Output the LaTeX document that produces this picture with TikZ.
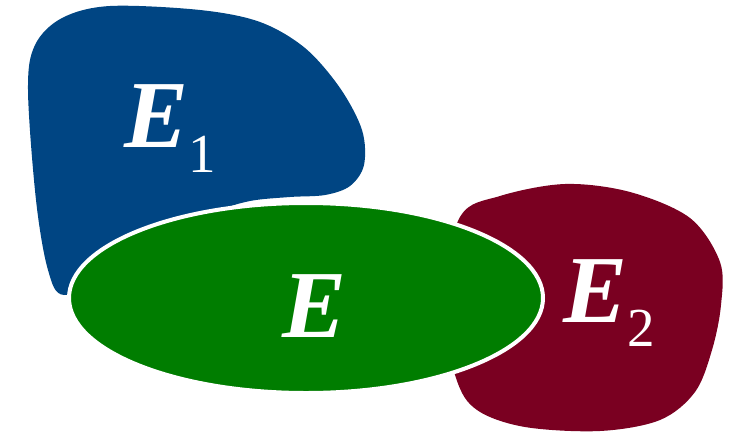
\documentclass[tikz,border=0pt]{standalone}
\usepackage{fontspec}
\setmainfont{Liberation Serif}
\definecolor{setblue}{RGB}{0,69,131}
\definecolor{setred}{RGB}{122,0,33}
\definecolor{setgreen}{RGB}{0,125,0}

\begin{document}
\begin{tikzpicture}[x=1pt, y=-1pt,
       blob/.style = {fill=#1, draw=none},
   setlabel/.style = {text=white, inner sep=0pt, anchor=base west,
                      font=\fontsize{96}{96}\selectfont\bfseries\itshape}
                   ]
    \useasboundingbox (0,0) rectangle (738,431);

    % blue set E_1 (its lower part lies under E)
    \path[blob=setblue] plot[smooth cycle, tension=0.55] coordinates {
        (28,90) (35,45) (62,18) (110,6) (200,10) (260,22) (305,48)
        (340,88) (362,130) (364,165) (350,186) (325,195) (290,197)
        (250,201) (215,212) (170,235) (110,275) (64,295) (48,270) (36,200)};

    % red set E_2
    \path[blob=setred] plot[smooth cycle, tension=0.55] coordinates {
        (460,217) (500,196) (565,184) (630,192) (690,218) (720,262)
        (721,305) (712,350) (695,392) (660,420) (600,431) (525,427)
        (477,410) (456,378) (440,300)};

    % the set E, with a white rim
    \path[fill=setgreen, draw=white, line width=4pt] (306,298) ellipse [x radius=237, y radius=95];

    % labels
    \node (e1) at (124,147) [setlabel] {E\raisebox{-25pt}{\fontsize{55}{55}\selectfont\mdseries\upshape 1}};
    \node (e) at (282,337) [setlabel] {E};
    \node (e2) at (563,322) [setlabel] {E\raisebox{-24pt}{\fontsize{55}{55}\selectfont\mdseries\upshape 2}};
\end{tikzpicture}
\end{document}
